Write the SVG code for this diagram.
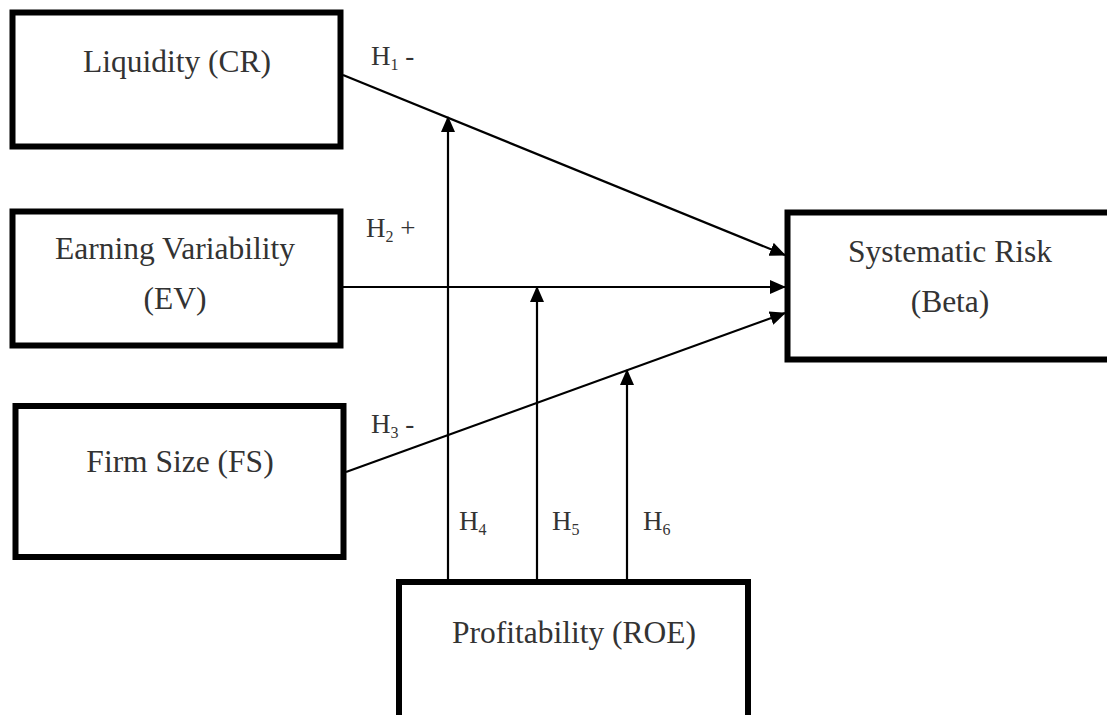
<svg xmlns="http://www.w3.org/2000/svg" width="1107" height="715" viewBox="0 0 1107 715">
<defs>
<marker id="arr" markerUnits="userSpaceOnUse" markerWidth="16" markerHeight="14" refX="15" refY="7" orient="auto">
<path d="M0,0 L16,7 L0,14 Z" fill="#000"/>
</marker>
<style>
.box{fill:#fff;stroke:#000;stroke-width:6}
text{font-family:'Liberation Serif','Times New Roman',serif;fill:#333}
.lbl{text-anchor:middle;font-size:31.5px}
.h{font-size:27px}
.sub{font-size:16px}
.con{stroke:#000;stroke-width:2.2;fill:none;marker-end:url(#arr)}
</style>
</defs>
<rect width="1107" height="715" fill="#fff"/>
<g id="liquidity">
<rect class="box" x="12.5" y="12.5" width="328" height="134"/>
<text class="lbl" x="177" y="72">Liquidity (CR)</text>
</g>
<g id="earning-variability">
<rect class="box" x="12.5" y="211.5" width="328" height="134"/>
<text class="lbl" x="175" y="259">Earning Variability</text>
<text class="lbl" x="175" y="309">(EV)</text>
</g>
<g id="firm-size">
<rect class="box" x="15.5" y="406" width="328" height="151"/>
<text class="lbl" x="180" y="472">Firm Size (FS)</text>
</g>
<g id="systematic-risk">
<rect class="box" x="787.5" y="212.5" width="330" height="147"/>
<text class="lbl" x="950" y="262">Systematic Risk</text>
<text class="lbl" x="950" y="312">(Beta)</text>
</g>
<g id="profitability">
<rect class="box" x="399" y="582" width="349" height="140"/>
<text class="lbl" x="574" y="643">Profitability (ROE)</text>
</g>
<g id="connectors">
<line class="con" x1="343" y1="75" x2="785" y2="255"/>
<line class="con" x1="343" y1="287" x2="785" y2="287"/>
<line class="con" x1="346" y1="472" x2="785" y2="313"/>
<line class="con" x1="448" y1="580" x2="448" y2="117"/>
<line class="con" x1="537" y1="580" x2="537" y2="287"/>
<line class="con" x1="627" y1="580" x2="627" y2="370"/>
</g>
<g id="labels">
<text class="h" x="371" y="65">H<tspan class="sub" dy="5">1</tspan><tspan dy="-5"> -</tspan></text>
<text class="h" x="366" y="237">H<tspan class="sub" dy="5">2</tspan><tspan dy="-5"> +</tspan></text>
<text class="h" x="371" y="433">H<tspan class="sub" dy="5">3</tspan><tspan dy="-5"> -</tspan></text>
<text class="h" x="459" y="530">H<tspan class="sub" dy="5">4</tspan></text>
<text class="h" x="552" y="530">H<tspan class="sub" dy="5">5</tspan></text>
<text class="h" x="643" y="530">H<tspan class="sub" dy="5">6</tspan></text>
</g>
</svg>
